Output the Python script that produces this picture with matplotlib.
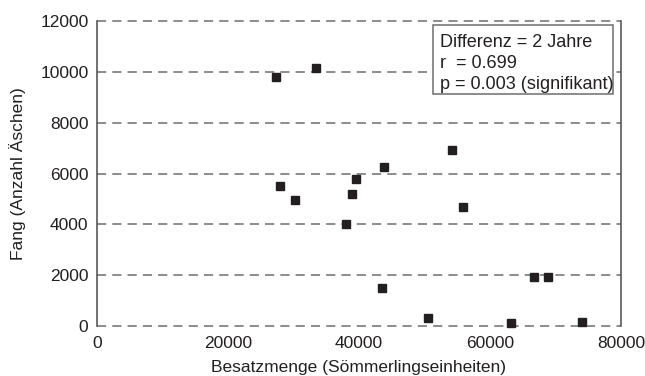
import matplotlib
matplotlib.use("Agg")
from matplotlib import pyplot as plt
from matplotlib.patches import Rectangle

# Besatzmenge vs. Fang (2 Jahre versetzt)
besatz = [27400, 33500, 27900, 30300, 38100, 39000, 39500, 43800,
          43500, 54200, 55850, 50500, 63200, 66700, 68850, 74050]
fang = [9790, 10150, 5490, 4940, 4000, 5200, 5790, 6275,
        1510, 6940, 4680, 300, 120, 1920, 1920, 170]

x_ticks = [0, 20000, 40000, 60000, 80000]
y_ticks = [0, 2000, 4000, 6000, 8000, 10000, 12000]

stats_lines = ["Differenz = 2 Jahre", "r  = 0.699", "p = 0.003 (signifikant)"]

font = {"family": ["Liberation Sans", "DejaVu Sans"], "size": 12.5}
matplotlib.rc("font", **font)

fig = plt.figure(figsize=(6.45, 3.76), dpi=100)
ax = fig.add_axes([0.150, 0.133, 0.813, 0.811])

ax.set_xlim(0, 80000)
ax.set_ylim(0, 12000)
ax.set_xticks(x_ticks)
ax.set_yticks(y_ticks)
ax.tick_params(length=0, colors="#231f20")
ax.tick_params(axis="y", pad=6)
ax.tick_params(axis="x", pad=7)

for yv in y_ticks:
    ax.axhline(yv, color="#6d6d6d", lw=1.1, ls=(0, (6, 4)), zorder=1, clip_on=False)

ax.spines["top"].set_visible(False)
ax.spines["bottom"].set_visible(False)
ax.spines["left"].set_color("#4a4a4a")
ax.spines["right"].set_color("#4a4a4a")
ax.spines["left"].set_linewidth(1.1)
ax.spines["right"].set_linewidth(1.1)

ax.plot(besatz, fang, "s", color="#231f20", markersize=6.3, zorder=3, clip_on=False)

ax.set_xlabel("Besatzmenge (Sömmerlingseinheiten)", color="#231f20", labelpad=7)
ax.set_ylabel("Fang (Anzahl Äschen)", color="#231f20", labelpad=10)

# statistics box, upper right
ax.add_patch(Rectangle((0.6406, 0.7607), 0.3447, 0.2262, transform=ax.transAxes,
                       fc="white", ec="#6d6d6d", lw=1.1, zorder=4))
for i, line in enumerate(stats_lines):
    ax.text(0.6546, 0.9151 - i * 0.0695, line, transform=ax.transAxes,
            va="baseline", ha="left", fontsize=13, color="#231f20", zorder=5)

fig.savefig("out.png", dpi=100)
